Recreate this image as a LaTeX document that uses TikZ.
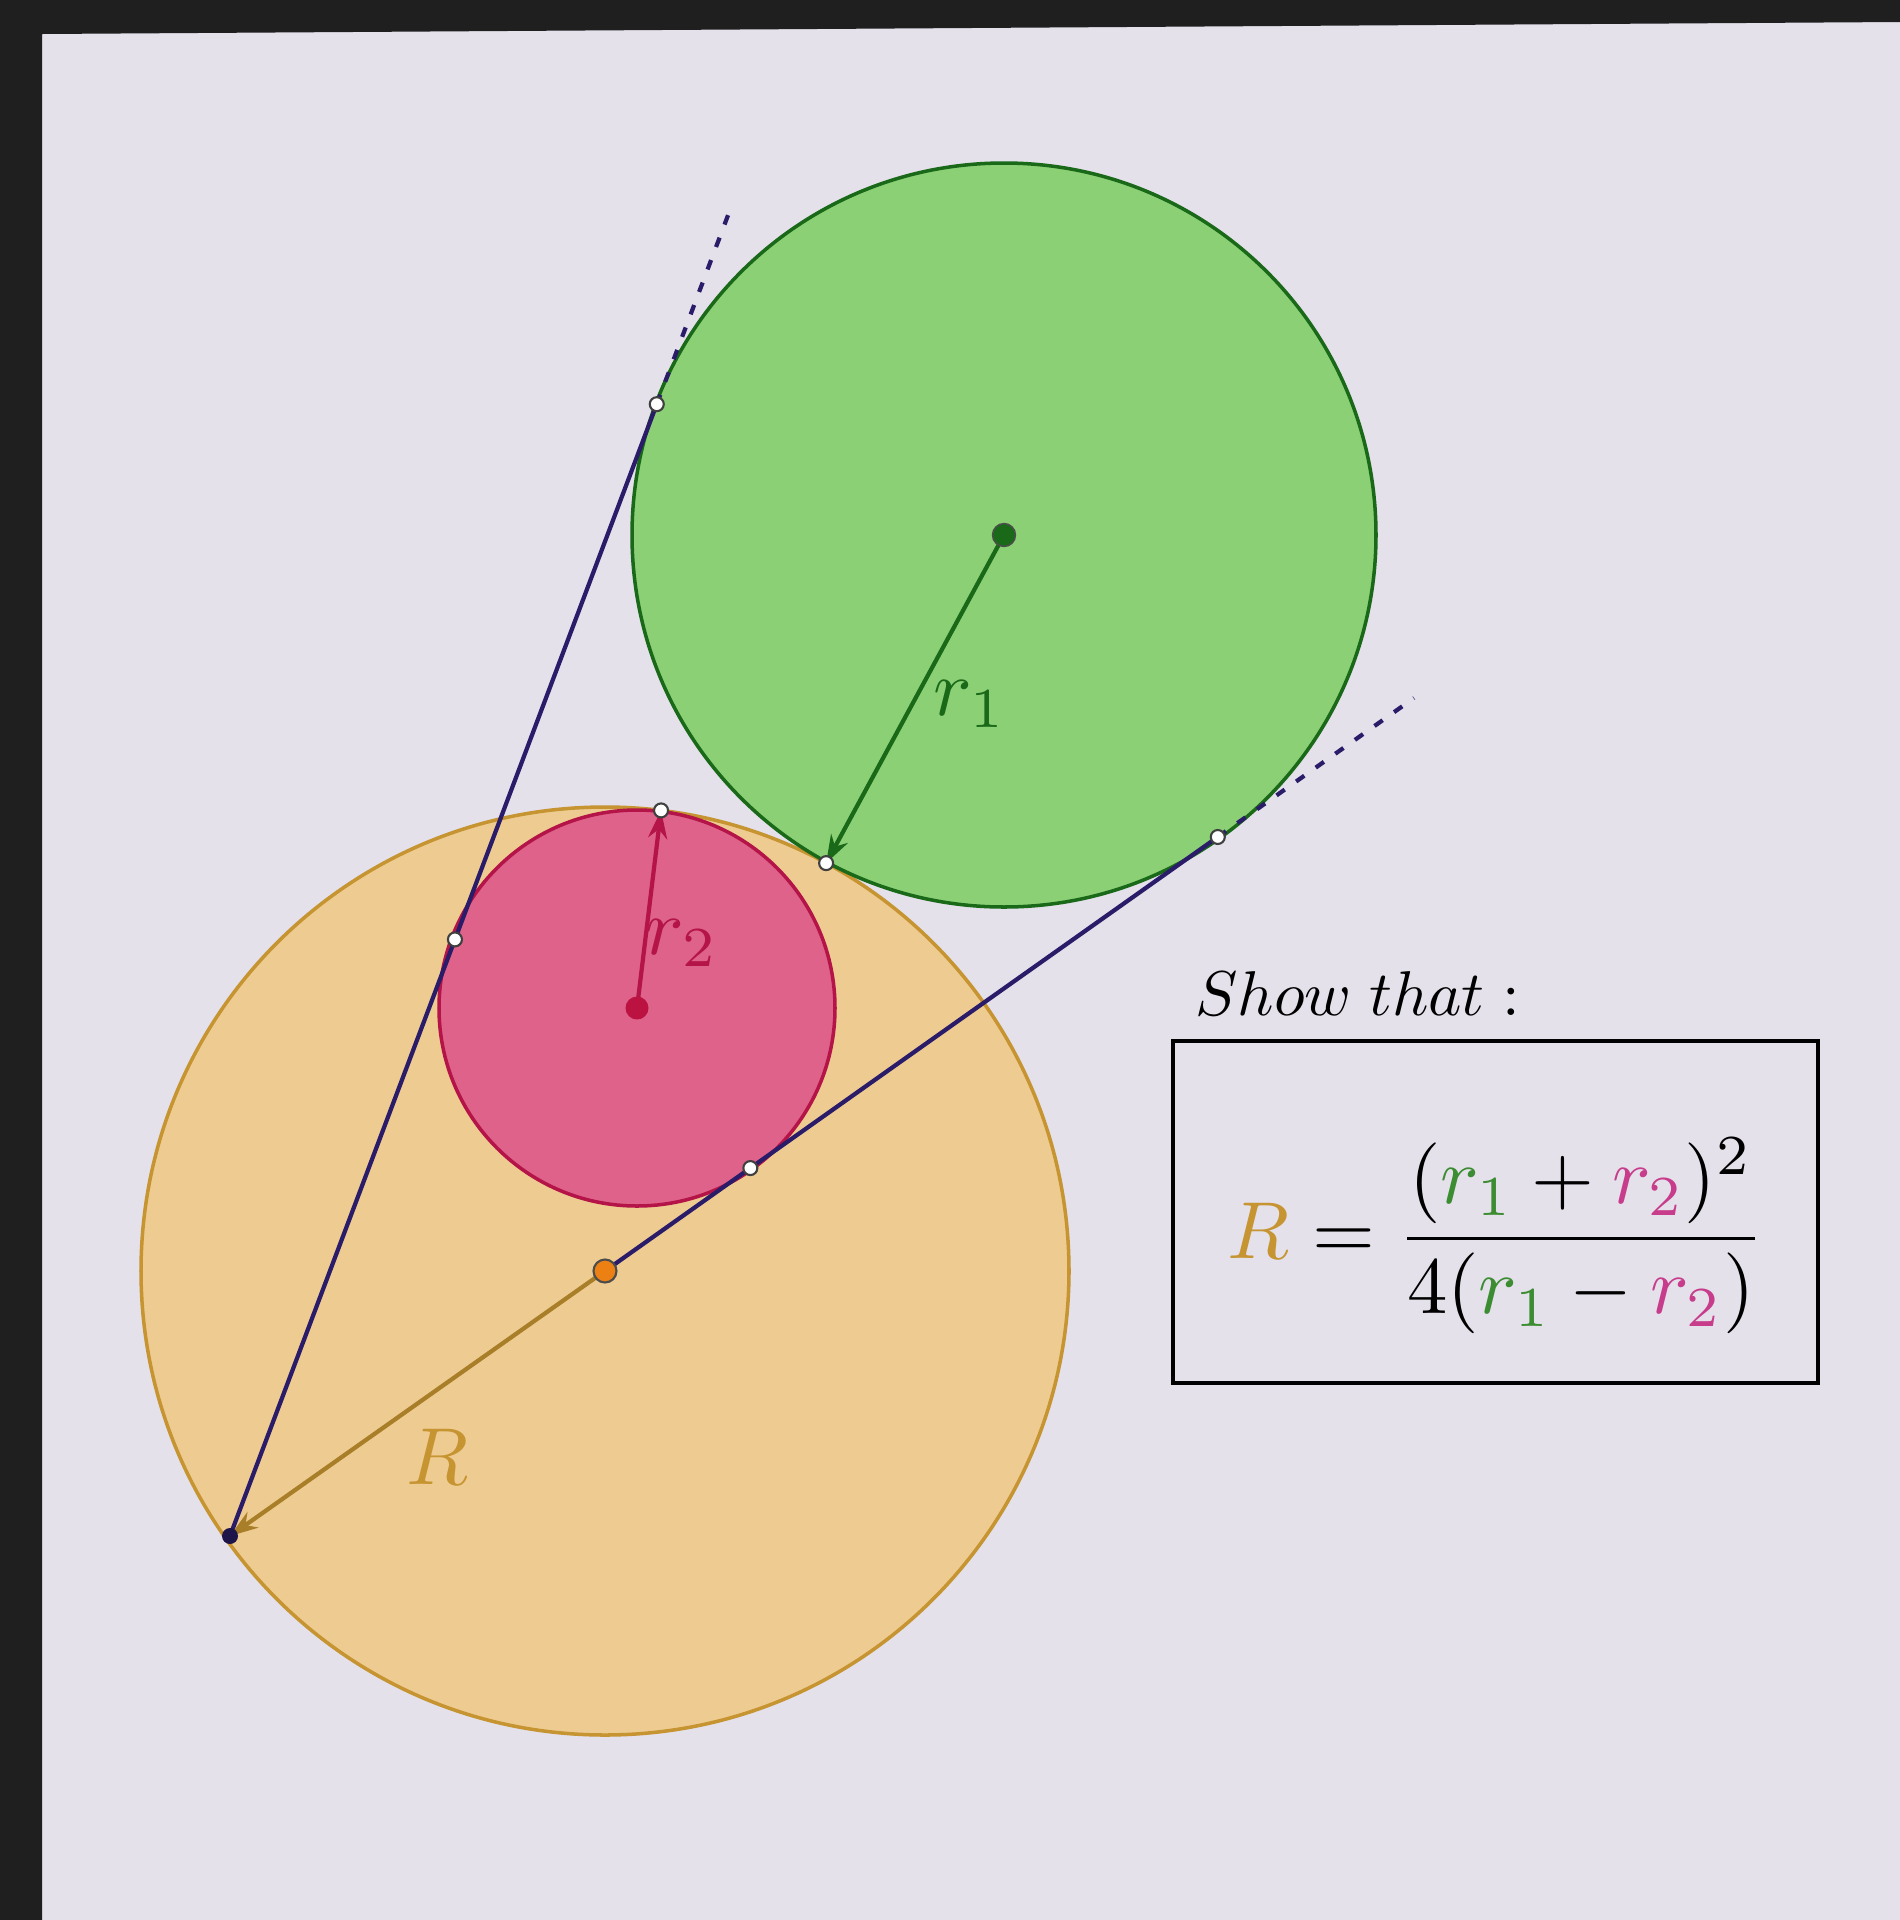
\documentclass[tikz,border=0pt]{standalone}
\usepackage{amsmath}
\usepackage{xcolor}
\usetikzlibrary{calc,arrows.meta}

\definecolor{bggray}{RGB}{228,225,235}
\definecolor{greenfill}{RGB}{140,208,118}
\definecolor{greenline}{RGB}{25,105,25}
\definecolor{redfill}{RGB}{222,98,138}
\definecolor{redline}{RGB}{180,20,72}
\definecolor{orangefill}{RGB}{238,203,145}
\definecolor{orangeline}{RGB}{198,148,48}
\definecolor{navyline}{RGB}{42,28,105}
\definecolor{formgreen}{RGB}{60,140,50}
\definecolor{formred}{RGB}{200,60,140}

\newcommand{\rgreen}{\textcolor{formgreen}{r_{1}}}
\newcommand{\rred}{\textcolor{formred}{r_{2}}}

\begin{document}
\begin{tikzpicture}[x=0.1mm,y=-0.1mm,
    tanpt/.style={circle,draw=black!75,fill=white,line width=0.6pt,inner sep=0pt,minimum size=1.4mm},
    ctrpt/.style={circle,inner sep=0pt,minimum size=2.3mm},
    tanline/.style={navyline,line width=1.2pt},
    dashline/.style={navyline,line width=1.2pt,dash pattern=on 1mm off 1.4mm},
    radarrow/.style={line width=1.2pt,-{Stealth[length=2.8mm,width=1.9mm]}}]

    % background and screen frame
    \fill[bggray] (0,0) rectangle (1900,1920);
    \fill[black!88] (0,0) -- (1900,0) -- (1900,22) -- (42,34) -- (42,1920) -- (0,1920) -- cycle;
    \useasboundingbox (0,0) rectangle (1900,1920);

    % centres and radii
    \coordinate (Og) at (1004,535);
    \coordinate (Or) at (637,1008);
    \coordinate (Oo) at (605,1271);
    \def\rgr{37.2mm}
    \def\rrd{19.8mm}
    \def\rbig{46.4mm}

    % circles
    \filldraw[fill=orangefill,draw=orangeline,line width=1pt] (Oo) circle[radius=\rbig];
    \filldraw[fill=greenfill,draw=greenline,line width=1pt] (Og) circle[radius=\rgr];
    \filldraw[fill=redfill,draw=redline,line width=1pt] (Or) circle[radius=\rrd];

    % tangent lines
    \coordinate (P) at (230,1536);
    \coordinate (A1) at (730,210);
    \coordinate (A2) at (1414,698);
    \coordinate (T1r) at ($(P)!(Or)!(A1)$);
    \coordinate (T1g) at ($(P)!(Og)!(A1)$);
    \coordinate (T2r) at ($(Oo)!(Or)!(A2)$);
    \coordinate (T2g) at ($(Oo)!(Og)!(A2)$);
    \coordinate (Tgo) at ($(Oo)!\rbig!(Og)$);
    \coordinate (Tro) at ($(Oo)!\rbig!(Or)$);

    \draw[tanline] (P) -- (T1g);
    \draw[dashline] (T1g) -- (A1);
    \draw[tanline] (Oo) -- (T2g);
    \draw[dashline] (T2g) -- (A2);

    % radii
    \draw[radarrow,greenline] (Og) -- (Tgo);
    \draw[radarrow,redline] (Or) -- (Tro);
    \draw[radarrow,orangeline!85!black] (Oo) -- (P);

    % labels
    \node[scale=2.3,text=greenline] (lr1) at (970,704) {$r_1$};
    \node[scale=2.3,text=redline] (lr2) at (682,943) {$r_2$};
    \node[scale=2.3,text=orangeline] (lR) at (437,1457) {$R$};

    % points
    \node[tanpt] at (T1r) {};
    \node[tanpt] at (T1g) {};
    \node[tanpt] at (T2r) {};
    \node[tanpt] at (T2g) {};
    \node[tanpt] at (Tgo) {};
    \node[tanpt] at (Tro) {};
    \node[ctrpt,fill=greenline,draw=black!70] at (Og) {};
    \node[ctrpt,fill=redline!90!red] at (Or) {};
    \node[ctrpt,fill=orange!70!brown,draw=black!70,line width=0.6pt] at (Oo) {};
    \node[circle,inner sep=0pt,minimum size=1.6mm,fill=navyline!70!black] at (P) {};

    % statement
    \node[scale=1.8,anchor=west,inner sep=0pt] (show) at (1194,994) {$Show\;that:$};
    \draw[line width=0.9pt] (1173,1041) rectangle (1818,1383);
    \node[scale=2.3] (frm) at (1496,1236)
        {$\textcolor{orangeline}{R}=\dfrac{(\rgreen+\rred)^{2}}{4(\rgreen-\rred)}$};
\end{tikzpicture}
\end{document}
